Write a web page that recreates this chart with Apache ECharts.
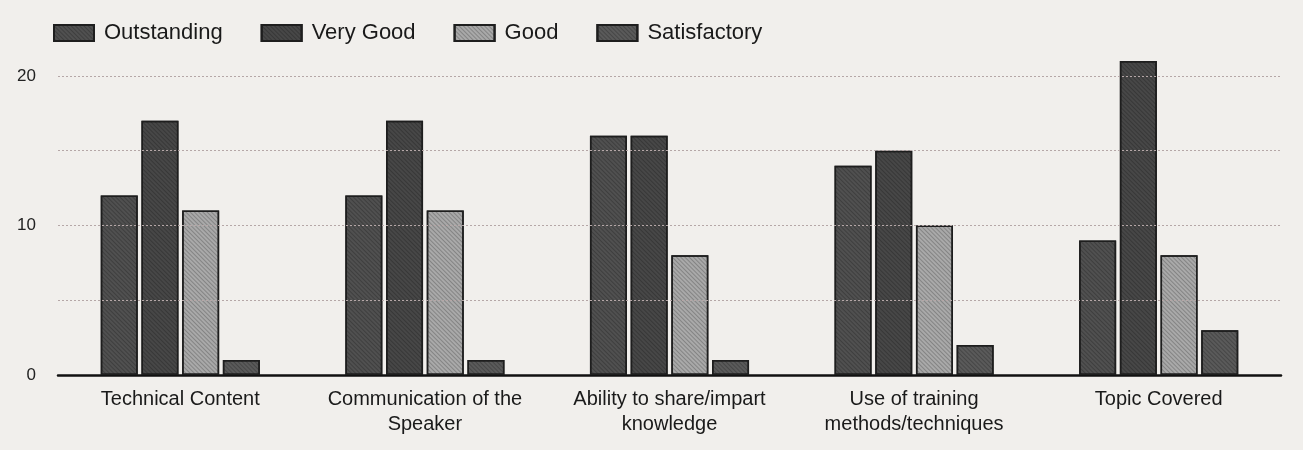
<!DOCTYPE html>
<html>
<head>
<meta charset="utf-8">
<script src="https://cdn.jsdelivr.net/npm/echarts@6/dist/echarts.min.js"></script>
<style>
  html, body { margin: 0; padding: 0; background: #f1efec; }
  #chart { width: 1303px; height: 450px; }
</style>
</head>
<body>
<div id="chart"></div>
<script>
// Feedback ratings per session aspect (counts of respondents)
const categories = [
  'Technical Content',
  'Communication of the\nSpeaker',
  'Ability to share/impart\nknowledge',
  'Use of training\nmethods/techniques',
  'Topic Covered',
]
const outstanding = [12, 12, 16, 14, 9]
const veryGood = [17, 17, 16, 15, 21]
const good = [11, 11, 8, 10, 8]
const satisfactory = [1, 1, 1, 2, 3]
const gridValues = [5, 10, 15, 20]

const chart = echarts.init(document.getElementById('chart'), null, { renderer: 'canvas' })

const font = 'Liberation Sans, Arial, sans-serif'

// printed-hatch look
const hatch = {
  symbol: 'rect',
  symbolSize: 1,
  dashArrayX: [1, 0],
  dashArrayY: [1, 2],
  rotation: Math.PI / 4,
  color: 'rgba(0,0,0,0.22)',
}

function bar(name, data, color) {
  return {
    name,
    type: 'bar',
    data,
    barWidth: 37,
    barGap: '10%',
    itemStyle: { color, borderColor: '#1e1e1e', borderWidth: 1.5, decal: hatch },
  }
}

const series = [
  bar('Outstanding', outstanding, '#505050'),
  bar('Very Good', veryGood, '#474747'),
  bar('Good', good, '#a9a9a9'),
  bar('Satisfactory', satisfactory, '#5a5a5a'),
]
// dotted gridlines every 5 units, drawn from the axis values
series[0].markLine = {
  silent: true,
  symbol: 'none',
  label: { show: false },
  lineStyle: { color: '#b5a7a7', type: [2, 2], width: 1 },
  data: gridValues.map((v) => ({ yAxis: v })),
}

chart.setOption({
  backgroundColor: '#f1efec',
  animation: false,
  aria: { enabled: false, decal: { show: true } },
  legend: {
    left: 48,
    top: 17,
    icon: 'rect',
    itemWidth: 40,
    itemHeight: 16,
    itemGap: 38,
    textStyle: { fontFamily: font, fontSize: 22, color: '#1a1a1a', padding: [0, 0, 0, 5] },
  },
  grid: { left: 58, right: 22, top: 46, bottom: 75 },
  xAxis: {
    type: 'category',
    data: categories,
    axisTick: { show: false },
    axisLine: { lineStyle: { color: '#111', width: 2.5 } },
    axisLabel: {
      interval: 0,
      fontFamily: font,
      fontSize: 20,
      color: '#1a1a1a',
      lineHeight: 25,
      margin: 12,
    },
  },
  yAxis: {
    type: 'value',
    min: 0,
    max: 22,
    interval: 10,
    splitLine: { show: false },
    axisLine: { show: false },
    axisTick: { show: false },
    axisLabel: {
      fontFamily: font,
      fontSize: 17,
      color: '#222',
      margin: 22,
      formatter: (v) => (v % 10 === 0 ? String(v) : ''),
    },
  },
  series,
})
</script>
</body>
</html>
